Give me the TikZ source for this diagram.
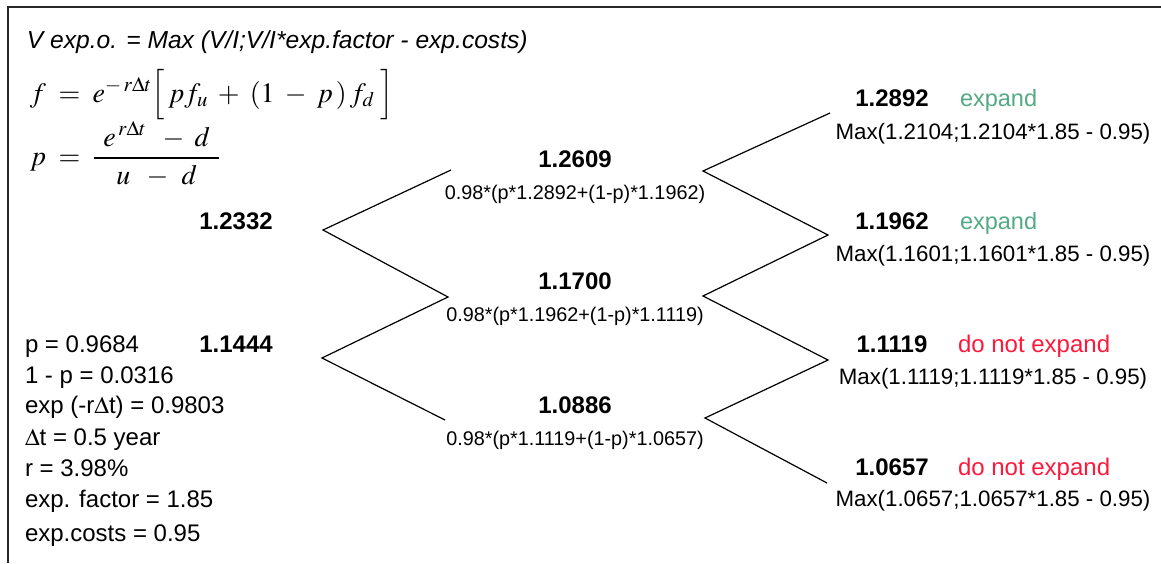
\documentclass[tikz,border=0pt]{standalone}
\usepackage{mathptmx}
\usepackage{fontspec}
\setmainfont{Liberation Sans}
\definecolor{expandgreen}{RGB}{84,170,132}
\definecolor{stopred}{RGB}{255,24,60}
\definecolor{framegray}{RGB}{40,40,40}
\begin{document}
\begin{tikzpicture}[x=1pt,y=-1pt,
  every node/.style={inner sep=0pt, outer sep=0pt},
  heading/.style={font=\fontsize{24.6}{28}\selectfont\itshape, anchor=base west},
  formula/.style={font=\fontsize{28}{31}\selectfont, anchor=base west},
  param/.style={font=\fontsize{24}{28}\selectfont, anchor=base west},
  val/.style={font=\fontsize{24}{28}\selectfont\bfseries, anchor=base},
  calc/.style={font=\fontsize{19.8}{23}\selectfont, anchor=base},
  maxcalc/.style={font=\fontsize{22.3}{26}\selectfont, anchor=base},
  go/.style={font=\fontsize{23.5}{28}\selectfont, text=expandgreen, anchor=base west},
  hold/.style={font=\fontsize{24}{28}\selectfont, text=stopred, anchor=base west},
  branch/.style={line width=1.2pt, black},
  frame/.style={line width=1.6pt, framegray}]
\useasboundingbox[fill=white] (0,0) rectangle (1161,563);
% open frame: top and left edges
\draw[frame] (8,563) -- (8,7) -- (1161,7);

% header and formulas
\node[heading] (title) at (27,48) {V exp.o. = Max (V/I;V/I*exp.factor - exp.costs)};
\node[formula] (fval) at (30,102)
  {$f\;=\;e^{-\,r\Delta t}\Big[\,p f_{u}\;+\;(1\;-\;p\,)\,f_{d}\;\Big]$};
\node[formula] (prob) at (30,165)
  {$\displaystyle p\;=\;\frac{\;\,e^{\,r\Delta t}\;\;-\;d\;\,}{\;\;u\;\;-\;\,d\;\;}$};

% parameters
\node[param] (pp)  at (25,352) {p = 0.9684};
\node[param] (pq)  at (25,383) {1 - p = 0.0316};
\node[param] (pd)  at (25,413) {exp (-r$\Delta$t) = 0.9803};
\node[param] (pt)  at (25,445) {$\Delta$t = 0.5 year};
\node[param] (pr)  at (25,476) {r = 3.98\%};
\node[param] (pf)  at (25,507) {exp. factor = 1.85};
\node[param] (pc)  at (25,541) {exp.costs = 0.95};

% step 0
\node[val] (a1) at (236,229) {1.2332};
\node[val] (a2) at (236,352) {1.1444};

% step 1
\node[val]  (b1)  at (575,167) {1.2609};
\node[calc] (b1c) at (575,199) {0.98*(p*1.2892+(1-p)*1.1962)};
\node[val]  (b2)  at (575,289) {1.1700};
\node[calc] (b2c) at (575,321) {0.98*(p*1.1962+(1-p)*1.1119)};
\node[val]  (b3)  at (575,413) {1.0886};
\node[calc] (b3c) at (575,445) {0.98*(p*1.1119+(1-p)*1.0657)};

% step 2
\node[val]     (c1)  at (892,106) {1.2892};
\node[go]      (c1s) at (960,106) {expand};
\node[maxcalc] (c1c) at (993,139) {Max(1.2104;1.2104*1.85 - 0.95)};
\node[val]     (c2)  at (892,229) {1.1962};
\node[go]      (c2s) at (960,229) {expand};
\node[maxcalc] (c2c) at (993,261) {Max(1.1601;1.1601*1.85 - 0.95)};
\node[val]     (c3)  at (892,352) {1.1119};
\node[hold]    (c3s) at (958,352) {do not expand};
\node[maxcalc] (c3c) at (993,384) {Max(1.1119;1.1119*1.85 - 0.95)};
\node[val]     (c4)  at (892,475) {1.0657};
\node[hold]    (c4s) at (958,475) {do not expand};
\node[maxcalc] (c4c) at (993,506) {Max(1.0657;1.0657*1.85 - 0.95)};

% lattice points
\coordinate (l1) at (323,230);
\coordinate (l2) at (322,358);
\coordinate (m1) at (451,170);
\coordinate (m2) at (448,297);
\coordinate (m3) at (445,420);
\coordinate (r1) at (703,171);
\coordinate (r2) at (703,296);
\coordinate (r3) at (705,418);
\coordinate (e1) at (830,113);
\coordinate (e2) at (828,235);
\coordinate (e3) at (828,360);
\coordinate (e4) at (827,483);

% branches
\draw[branch] (m1) -- (l1) -- (m2) -- (l2) -- (m3);
\draw[branch] (e1) -- (r1) -- (e2) -- (r2) -- (e3) -- (r3) -- (e4);
\end{tikzpicture}
\end{document}
